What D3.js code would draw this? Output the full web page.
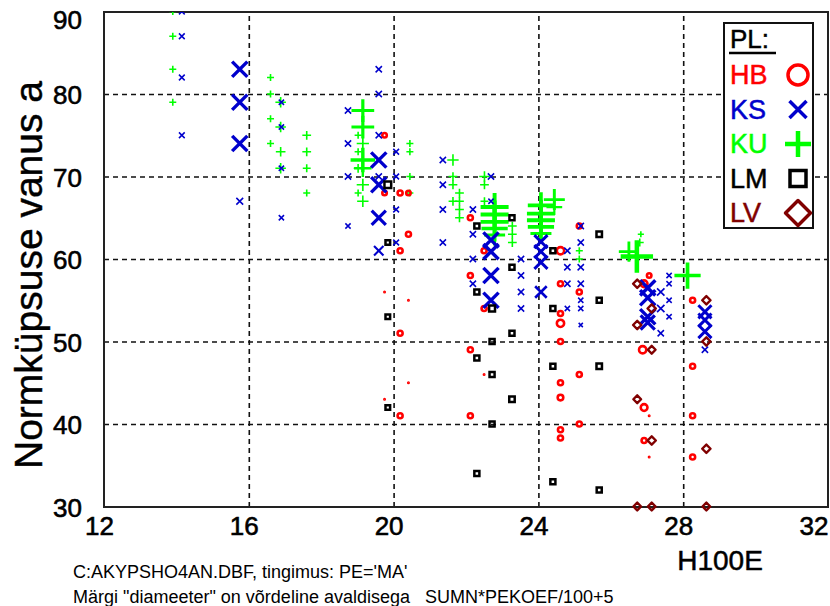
<!DOCTYPE html>
<html>
<head>
<meta charset="utf-8">
<script src="https://cdn.jsdelivr.net/npm/d3@7"></script>
<style>
  body { margin: 0; background: #fff; }
  text { font-family: "Liberation Sans", Arial, sans-serif; }
</style>
</head>
<body>
<div id="chart"></div>
<script>
// ticks
var xTicks = [12, 16, 20, 24, 28, 32];
var yTicks = [30, 40, 50, 60, 70, 80, 90];
var xGrid = [16, 20, 24, 28];
var yGrid = [40, 50, 60, 70, 80];

// points: [H100E, vanus, "diameeter" = SUMN*PEKOEF/100+5]
var HB = [
  [19.75, 75, 8], [19.75, 68, 8], [19.75, 56, 3], [19.75, 43, 3],
  [20.18, 68, 9], [20.18, 61, 9], [20.18, 51, 9], [20.18, 41, 9],
  [20.41, 68, 8], [20.41, 63, 9], [20.41, 55, 3], [20.41, 45, 3],
  [22.12, 65, 9], [22.12, 58, 9], [22.12, 49, 9], [22.12, 41, 9],
  [22.5, 61, 9], [22.5, 54, 9], [22.5, 46, 3],
  [24.61, 61, 13], [24.61, 57, 9], [24.61, 53.4, 9], [24.61, 52.2, 13], [24.61, 50, 9],
  [24.61, 45, 9], [24.61, 43.2, 10], [24.61, 39.3, 9], [24.61, 38.3, 9],
  [25.13, 64, 9], [25.13, 56, 9], [25.13, 46, 9], [25.13, 40, 9],
  [26.92, 57, 12], [26.88, 49, 13], [26.92, 42, 12], [26.92, 38, 9],
  [27.06, 58, 8], [27.06, 41, 3], [27.06, 36, 3],
  [28.26, 55, 9], [28.26, 47, 9], [28.26, 41, 9], [28.26, 36, 9]
];

var KS = [
  [14.15, 90, 11], [14.15, 87, 11], [14.15, 82, 11], [14.15, 75, 11],
  [15.75, 83, 29], [15.75, 79, 29], [15.75, 74, 29], [15.75, 67, 13],
  [16.9, 79, 10], [16.9, 76, 10], [16.9, 71, 10], [16.9, 65, 10],
  [18.74, 78, 12], [18.74, 74, 12], [18.74, 70, 12], [18.74, 64, 10],
  [19.59, 83, 12], [19.59, 80, 12], [19.59, 75, 12], [19.59, 72, 29],
  [19.59, 70, 12], [19.59, 69, 29], [19.59, 65, 27], [19.59, 61, 18],
  [20.07, 73, 11], [20.07, 70, 11], [20.07, 66, 11], [20.07, 62, 11],
  [21.36, 72, 12], [21.36, 69, 12], [21.36, 66, 12], [21.36, 62, 12],
  [22.19, 66, 12], [22.19, 63, 12], [22.19, 60, 12], [22.19, 57, 12],
  [22.69, 70, 12], [22.69, 67, 10], [22.69, 62.3, 29], [22.69, 60.9, 29], [22.69, 58, 29], [22.69, 55, 29],
  [23.52, 60, 12], [23.52, 58, 12], [23.52, 56, 12], [23.52, 54, 12],
  [24.07, 62.1, 25], [24.07, 60.9, 25], [24.07, 59.6, 25], [24.07, 56, 22],
  [24.8, 61, 12], [24.8, 59, 12], [24.8, 57, 12], [24.8, 54, 10],
  [25.17, 64, 12], [25.17, 62, 12], [25.17, 59, 12], [25.17, 57, 12],
  [25.17, 55, 10], [25.17, 54, 10], [25.17, 52, 8],
  [27.02, 56.5, 29], [27.02, 55.3, 29], [27.02, 53, 29], [27.02, 52.3, 27],
  [27.38, 56, 14], [27.38, 54, 14], [27.38, 51, 12],
  [27.61, 58, 10], [27.61, 57, 10], [27.61, 55, 10], [27.61, 53, 10],
  [28.6, 53.6, 25], [28.6, 52.6, 25], [28.6, 51.2, 25], [28.6, 49, 12]
];

var KU = [
  [13.9, 90, 8], [13.9, 87, 8], [13.9, 83, 8], [13.9, 79, 8],
  [16.6, 82, 8], [16.6, 80, 8], [16.6, 77, 8], [16.6, 74, 8],
  [16.88, 79, 12], [16.88, 76, 12], [16.88, 73, 11], [16.88, 71, 12],
  [17.6, 75, 10], [17.6, 73, 10], [17.6, 71, 9], [17.6, 68, 8],
  [19.02, 75, 8], [19.02, 73, 8], [19.02, 71, 10], [19.02, 68, 8],
  [19.15, 78, 26], [19.15, 76, 26], [19.15, 74, 14], [19.15, 72, 28],
  [19.15, 71, 20], [19.15, 69, 14], [19.15, 67, 13],
  [20.45, 74, 8], [20.45, 73, 8], [20.45, 70, 8], [20.45, 68, 8],
  [21.64, 72, 13], [21.64, 70, 10], [21.64, 69, 10], [21.64, 67, 10],
  [21.82, 68, 10], [21.82, 67, 10], [21.82, 66, 10], [21.82, 65, 10],
  [22.51, 70, 12], [22.51, 69, 10], [22.51, 67, 9],
  [22.79, 66.3, 32], [22.79, 65.4, 32], [22.79, 64.5, 32], [22.79, 63.7, 30], [22.79, 62.9, 24],
  [23.28, 64, 10], [23.28, 63, 10], [23.28, 62, 10],
  [24.07, 66.5, 30], [24.07, 65.5, 32], [24.07, 64.7, 32], [24.07, 63.9, 30], [24.07, 63.1, 24],
  [24.44, 67.2, 24], [24.44, 66.3, 18],
  [25.13, 61, 8], [25.13, 60, 8],
  [26.5, 60.9, 23], [26.83, 63, 7], [26.8, 62, 9], [26.72, 60.3, 37],
  [28.12, 58, 30]
];

var LM = [
  [19.84, 69, 16], [19.84, 62, 11], [19.84, 53, 11], [19.84, 42, 11],
  [22.3, 64, 12], [22.3, 56, 12], [22.3, 48, 12], [22.3, 34, 12],
  [22.72, 54, 14], [22.72, 50, 12], [22.72, 46, 12], [22.72, 40, 12],
  [23.27, 65, 12], [23.27, 59, 12], [23.27, 51, 12], [23.27, 43, 13],
  [24.4, 61, 12], [24.4, 54, 12], [24.4, 47, 12], [24.4, 33, 12],
  [25.68, 63, 13], [25.68, 55, 12], [25.68, 47, 13], [25.68, 32, 12]
];

var LV = [
  [26.73, 57, 14], [26.73, 52, 14], [26.73, 43, 13], [26.73, 30, 13],
  [27.13, 54, 14], [27.13, 49, 13], [27.13, 38, 14], [27.13, 30, 13],
  [28.64, 55, 14], [28.64, 50, 14], [28.64, 37, 14], [28.64, 30, 13]
];

var legendNames = ["HB", "KS", "KU", "LM", "LV"];

var series = [
  {name: "KU", data: KU, shape: "plus", color: "#00ff00", mult: 1.25},
  {name: "HB", data: HB, shape: "circle", color: "#ff0000", mult: 0.8},
  {name: "KS", data: KS, shape: "x", color: "#0000cc", mult: 0.75},
  {name: "LM", data: LM, shape: "square", color: "#000000", mult: 0.6},
  {name: "LV", data: LV, shape: "diamond", color: "#800000", mult: 0.85}
];

var svgWidth = 830, svgHeight = 606;
var plot = {left: 104, right: 828, top: 12, bottom: 507};

var svg = d3.select("#chart").append("svg")
    .attr("width", svgWidth)
    .attr("height", svgHeight);

svg.append("rect").attr("width", svgWidth).attr("height", svgHeight).attr("fill", "#fff");

var x = d3.scaleLinear().domain([12, 32]).range([plot.left, plot.right]);
var y = d3.scaleLinear().domain([30, 90]).range([506.5, 11.5]);
var sizeScale = d3.scaleLinear().domain([0, 40]).range([0, 14]);

// marker path for shape with half size r
function markPath(shape, r) {
    if (shape == "circle") {
        return d3.symbol(d3.symbolCircle, Math.PI * r * r)();
    }
    if (shape == "x") {
        return "M" + (-r) + "," + (-r) + "L" + r + "," + r + "M" + (-r) + "," + r + "L" + r + "," + (-r);
    }
    if (shape == "plus") {
        return "M" + (-r) + ",0H" + r + "M0," + (-r) + "V" + r;
    }
    if (shape == "square") {
        return "M" + (-r) + "," + (-r) + "H" + r + "V" + r + "H" + (-r) + "Z";
    }
    return "M0," + (-r) + "L" + r + ",0L0," + r + "L" + (-r) + ",0Z";
}
var strokeK = {circle: 0.4, x: 0.45, plus: 0.28, square: 0.5, diamond: 0.55};
var strokeMin = {circle: 2.6, x: 1.5, plus: 1.6, square: 2.5, diamond: 2.4};

function markStroke(shape, r) {
    return Math.min(Math.max(strokeMin[shape], r * strokeK[shape]), r * 1.6);
}

// grid
var gridX = d3.axisBottom(x).tickValues(xGrid).tickSize(-(plot.bottom - plot.top)).tickFormat("");
var gridY = d3.axisLeft(y).tickValues(yGrid).tickSize(-(plot.right - plot.left)).tickFormat("");

svg.append("g").attr("class", "grid")
    .attr("transform", "translate(0," + plot.bottom + ")")
    .call(gridX);
svg.append("g").attr("class", "grid")
    .attr("transform", "translate(" + plot.left + ",0)")
    .call(gridY);
svg.selectAll(".grid .domain").remove();
svg.selectAll(".grid line")
    .attr("stroke", "#111")
    .attr("stroke-width", 1.6)
    .attr("stroke-dasharray", "5,4");

// frame
svg.append("rect")
    .attr("x", plot.left).attr("y", plot.top)
    .attr("width", plot.right - plot.left)
    .attr("height", plot.bottom - plot.top)
    .attr("fill", "none")
    .attr("stroke", "#222")
    .attr("stroke-width", 2);

// axes labels
var xAxis = d3.axisBottom(x).tickValues(xTicks).tickSize(0).tickPadding(0);
var gx = svg.append("g")
    .attr("transform", "translate(0," + plot.bottom + ")")
    .call(xAxis);
gx.select(".domain").remove();
gx.selectAll("text")
    .attr("font-family", "Liberation Sans, Arial, sans-serif")
    .attr("font-size", 26)
    .attr("fill", "#000")
    .attr("stroke", "#000")
    .attr("stroke-width", 0.6)
    .attr("dy", 28)
    .attr("dx", -5)
    .attr("text-anchor", d => d == 32 ? "end" : "middle")
    .attr("transform", d => d == 32 ? "translate(5,0)" : null);

var yAxis = d3.axisLeft(y).tickValues(yTicks).tickSize(0).tickPadding(22);
var gy = svg.append("g")
    .attr("transform", "translate(" + plot.left + ",0)")
    .call(yAxis);
gy.select(".domain").remove();
gy.selectAll("text")
    .attr("font-family", "Liberation Sans, Arial, sans-serif")
    .attr("font-size", 26)
    .attr("fill", "#000")
    .attr("stroke", "#000")
    .attr("stroke-width", 0.6)
    .attr("dy", d => d == 90 ? 17 : 9.5)
    .attr("y", 0);

svg.append("text")
    .attr("transform", "translate(42,275) rotate(-90)")
    .attr("text-anchor", "middle")
    .attr("font-size", 39)
    .attr("fill", "#000")
    .attr("stroke", "#000")
    .attr("stroke-width", 0.4)
    .text("Normküpsuse vanus a");

svg.append("text")
    .attr("x", 720).attr("y", 570)
    .attr("text-anchor", "middle")
    .attr("font-size", 28)
    .attr("fill", "#000")
    .attr("stroke", "#000")
    .attr("stroke-width", 0.5)
    .text("H100E");

svg.append("text")
    .attr("x", 73).attr("y", 578)
    .attr("font-size", 18)
    .attr("fill", "#000")
    .text("C:AKYPSHO4AN.DBF, tingimus: PE='MA'");

svg.append("text")
    .attr("x", 73).attr("y", 603)
    .attr("font-size", 18)
    .attr("fill", "#000")
    .style("white-space", "pre")
    .text("Märgi \"diameeter\" on võrdeline avaldisega   SUMN*PEKOEF/100+5");

// points
svg.append("clipPath").attr("id", "plotClip")
  .append("rect")
    .attr("x", plot.left).attr("y", plot.top)
    .attr("width", plot.right - plot.left)
    .attr("height", plot.bottom - plot.top + 12);

var pts = svg.append("g").attr("clip-path", "url(#plotClip)");

series.forEach(function(s) {
    pts.append("g").attr("class", "series-" + s.name)
      .selectAll("path")
      .data(s.data)
      .enter().append("path")
        .attr("transform", d => "translate(" + x(d[0]) + "," + y(d[1]) + ")")
        .attr("d", d => markPath(s.shape, sizeScale(d[2]) * s.mult))
        .attr("fill", "none")
        .attr("stroke", s.color)
        .attr("stroke-linejoin", s.shape == "diamond" ? "round" : "miter")
        .attr("stroke-width", d => markStroke(s.shape, sizeScale(d[2]) * s.mult));
});

// legend
var legend = svg.append("g").attr("transform", "translate(724,23)");
legend.append("rect")
    .attr("width", 89).attr("height", 205)
    .attr("fill", "#fff")
    .attr("stroke", "#111")
    .attr("stroke-width", 2);
legend.append("text")
    .attr("x", 6).attr("y", 25)
    .attr("font-size", 26)
    .attr("fill", "#000")
    .attr("stroke", "#000")
    .attr("stroke-width", 0.5)
    .text("PL:");
legend.append("line")
    .attr("x1", 5).attr("x2", 52)
    .attr("y1", 30).attr("y2", 30)
    .attr("stroke", "#000")
    .attr("stroke-width", 2.5);

var legendSize = {circle: 10, x: 8.5, plus: 13, square: 8, diamond: 12.5};
legendNames.forEach(function(name, i) {
    var s = series.find(d => d.name == name);
    var cy = 52 + i * 34.5;
    legend.append("text")
        .attr("x", 6).attr("y", cy + 9)
        .attr("font-size", 27)
        .attr("fill", s.color)
        .attr("stroke", s.color)
        .attr("stroke-width", 0.5)
        .text(name);
    legend.append("path")
        .attr("transform", "translate(74," + cy + ")")
        .attr("d", markPath(s.shape, legendSize[s.shape]))
        .attr("fill", "none")
        .attr("stroke", s.color)
        .attr("stroke-linejoin", s.shape == "diamond" ? "round" : "miter")
        .attr("stroke-width", s.shape == "plus" ? 4.5 : 3.5);
});
</script>
</body>
</html>
